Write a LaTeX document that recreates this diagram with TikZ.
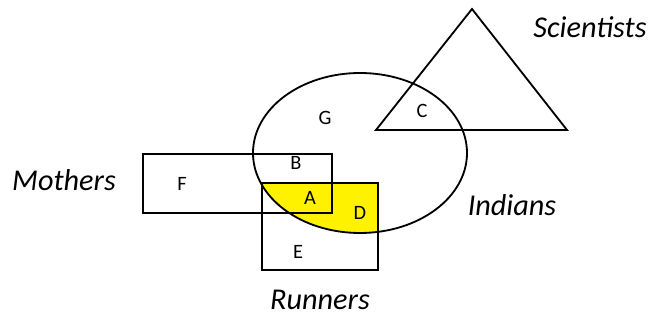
\documentclass[tikz,border=0pt]{standalone}
\usepackage{fontspec}
\setmainfont{Carlito}
\usetikzlibrary{calc}

\begin{document}
\begin{tikzpicture}[line width=1.3pt,
    region/.style={font=\fontsize{14.5}{16}\selectfont},
    setname/.style={font=\fontsize{21.5}{25}\selectfont\itshape}]
    \useasboundingbox (0,0) rectangle (16.325,8);

    \coordinate (O) at (9.0, 4.175);
    \coordinate (S1) at (11.8, 7.775);
    \coordinate (S2) at (9.4, 4.75);
    \coordinate (S3) at (14.175, 4.75);
    \coordinate (M1) at (3.575, 4.15);
    \coordinate (M2) at (8.3, 2.675);
    \coordinate (R1) at (6.55, 3.425);
    \coordinate (R2) at (9.45, 1.25);

    % runners who are indians
    \begin{scope}
      \clip (R1) rectangle (R2);
      \fill[yellow] (O) ellipse (2.675 and 2.0);
    \end{scope}

    \draw (O) ellipse (2.675 and 2.0);
    \draw[line join=miter] (S1) -- (S2) -- (S3) -- cycle;
    \draw (M1) rectangle (M2);
    \draw (R1) rectangle (R2);

    \node [region] (G) at (8.125, 5.05) {G};
    \node [region] (C) at (10.55, 5.225) {C};
    \node [region] (B) at (7.4, 3.925) {B};
    \node [region] (A) at (7.75, 3.05) {A};
    \node [region] (D) at (9.0, 2.675) {D};
    \node [region] (E) at (7.45, 1.7) {E};
    \node [region] (F) at (4.55, 3.4) {F};

    \node [setname] (mothers) at (1.6, 3.5) {Mothers};
    \node [setname] (scientists) at (14.75, 7.325) {Scientists};
    \node [setname] (indians) at (12.8, 2.875) {Indians};
    \node [setname] (runners) at (8.0, 0.5) {Runners};
\end{tikzpicture}
\end{document}
